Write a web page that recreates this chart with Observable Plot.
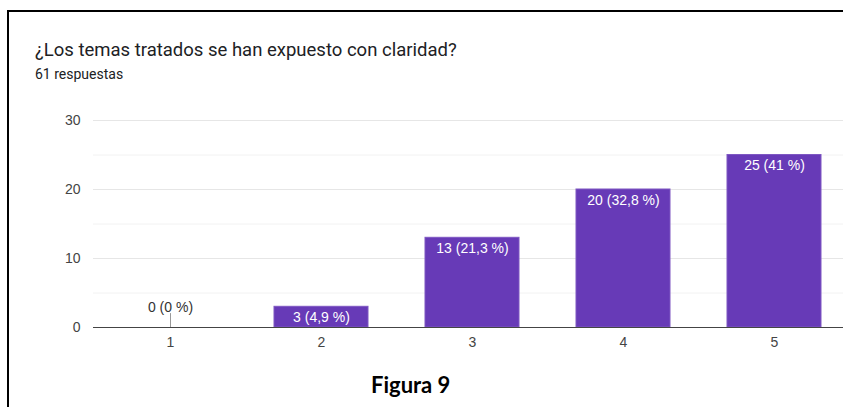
<!DOCTYPE html>
<html>
<head>
<meta charset="utf-8">
<script src="https://cdn.jsdelivr.net/npm/d3@7"></script>
<script src="https://cdn.jsdelivr.net/npm/@observablehq/plot@0.6"></script>
<style>
  html, body { margin: 0; padding: 0; background: #fff; width: 843px; height: 407px; overflow: hidden; }
  #frame { position: absolute; left: 7px; top: 10px; width: 850px; height: 420px; border-top: 2px solid #000; border-left: 2px solid #000; }
  #title { position: absolute; left: 35px; top: 39px; font-family: Roboto, sans-serif; font-size: 18.5px; color: #202124; white-space: nowrap; }
  #subtitle { position: absolute; left: 35px; top: 66px; font-family: Roboto, sans-serif; font-size: 14px; color: #202124; white-space: nowrap; }
  #chart { position: absolute; left: 0; top: 95px; }
  #caption { position: absolute; left: 371px; top: 371px; font-family: Lato, "Open Sans", sans-serif; font-weight: 700; font-size: 22px; color: #000; white-space: nowrap; }
</style>
</head>
<body>
<div id="frame"></div>
<div id="title">¿Los temas tratados se han expuesto con claridad?</div>
<div id="subtitle">61 respuestas</div>
<div id="chart"></div>
<div id="caption">Figura 9</div>
<script>
const categories = ["1", "2", "3", "4", "5"];
const counts = [0, 3, 13, 20, 25];
const labels = ["0 (0 %)", "3 (4,9 %)", "13 (21,3 %)", "20 (32,8 %)", "25 (41 %)"];
const majorTicks = [0, 10, 20, 30];
const minorTicks = [5, 15, 25];

const data = categories.map((c, i) => ({cat: c, n: counts[i], label: labels[i]}));
const nonzero = data.filter(d => d.n > 0);
const zero = data.filter(d => d.n === 0);

const lineShape = {draw(context, l) { context.moveTo(0, 0); context.lineTo(0, -l); }};

const chart = Plot.plot({
  width: 843,
  height: 265,
  marginLeft: 93,
  marginRight: 0,
  marginTop: 25,
  marginBottom: 33,
  style: {fontFamily: "Arial, 'Liberation Sans', sans-serif", fontSize: "14px", color: "#444", background: "transparent"},
  x: {domain: categories, range: [93, 851.5], paddingInner: 0.38, paddingOuter: 0.19, label: null, tickSize: 0, tickPadding: 10},
  y: {domain: [0, 30], ticks: majorTicks, label: null, tickSize: 0, tickPadding: 13},
  marks: [
    Plot.ruleY(minorTicks, {stroke: "#f2f2f2", strokeWidth: 1}),
    Plot.ruleY(majorTicks.filter(t => t > 0), {stroke: "#e6e6e6", strokeWidth: 1}),
    Plot.barY(data, {x: "cat", y: "n", fill: "#673ab7", stroke: "#7e57c2", strokeWidth: 1}),
    Plot.vector(zero, {x: "cat", y: "n", length: 14, anchor: "start", shape: lineShape, stroke: "#999", strokeWidth: 1}),
    Plot.ruleY([0], {stroke: "#444", strokeWidth: 1}),
    Plot.text(nonzero, {x: "cat", y: "n", text: "label", fill: "#fff", dy: 11, fontSize: 14}),
    Plot.text(zero, {x: "cat", y: "n", text: "label", fill: "#333", dy: -20, fontSize: 14})
  ]
});
document.getElementById("chart").appendChild(chart);
</script>
</body>
</html>
